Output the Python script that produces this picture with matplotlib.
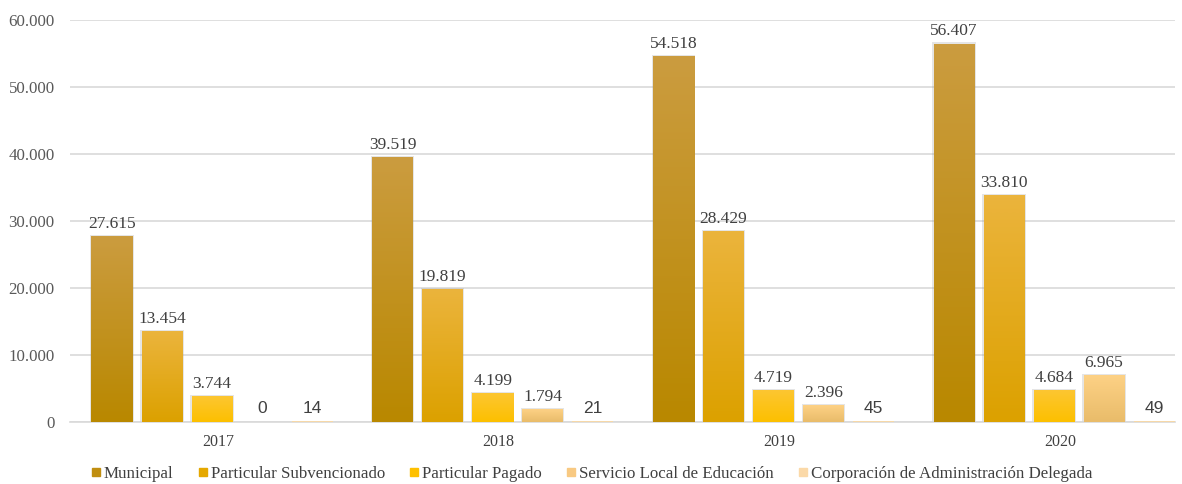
import numpy as np
import matplotlib.pyplot as plt
from matplotlib.colors import LinearSegmentedColormap
from matplotlib.lines import Line2D

years = ['2017', '2018', '2019', '2020']
series = ['Municipal', 'Particular Subvencionado', 'Particular Pagado',
          'Servicio Local de Educación', 'Corporación de Administración Delegada']
municipal = [27615, 39519, 54518, 56407]
subvencionado = [13454, 19819, 28429, 33810]
pagado = [3744, 4199, 4719, 4684]
servicio_local = [0, 1794, 2396, 6965]
delegada = [14, 21, 45, 49]
values = [municipal, subvencionado, pagado, servicio_local, delegada]

# (top colour, bottom colour) for each series gradient
grads = [('#cb9c3f', '#b98800'),
         ('#ebb43c', '#dca100'),
         ('#fdc631', '#fcc000'),
         ('#fdd185', '#e9bc6a'),
         ('#fde0b0', '#f0d0a0')]
legend_cols = ['#c08e10', '#e5a800', '#fec000', '#f8c982', '#fbd9a8']

plt.rcParams['font.family'] = 'Liberation Serif'

fig = plt.figure(figsize=(11.82, 4.84), dpi=100)
ax = fig.add_axes([70 / 1182, 62 / 484, 1105 / 1182, 402 / 484])

cat_px = 280.7
n = len(series)
bw = 41 / cat_px
step = 50 / cat_px
shift = -6 / cat_px
for i, vals in enumerate(values):
    cmap = LinearSegmentedColormap.from_list('g%d' % i, [grads[i][1], grads[i][0]])
    for j, v in enumerate(vals):
        xc = j + (i - (n - 1) / 2) * step + shift
        x0, x1 = xc - bw / 2, xc + bw / 2
        if v > 0:
            if v > 100:
                # soft shadow behind the bar
                ax.add_patch(plt.Rectangle((x0 - 0.004, 0), bw + 0.008, v + 250,
                                           color='#999999', alpha=0.25, lw=0, zorder=2))
            grad = np.linspace(0, 1, 64).reshape(-1, 1)
            ax.imshow(grad, cmap=cmap, origin='lower', aspect='auto',
                      extent=[x0, x1, 0, v], zorder=3, interpolation='bilinear')
        lab = f'{v:,}'.replace(',', '.')
        if v < 100:
            ax.text(xc, v + 900, lab, ha='center', va='bottom', fontsize=12.5,
                    color='#404040', family='Liberation Sans')
        else:
            ax.text(xc, v + 700, lab, ha='center', va='bottom', fontsize=12.5,
                    color='#404040')

ax.set_xlim((70 - 218) / cat_px, (1175 - 218) / cat_px)
ax.set_ylim(0, 60000)
ax.set_yticks(range(0, 60001, 10000))
ax.set_yticklabels([f'{t:,}'.replace(',', '.') for t in range(0, 60001, 10000)],
                   fontsize=12.2, color='#595959')
ax.set_xticks(range(len(years)))
ax.set_xticklabels(years, fontsize=11.5, color='#404040')
ax.tick_params(axis='y', length=0, pad=11)
ax.tick_params(axis='x', length=0, pad=9)
ax.yaxis.grid(True, color='#d9d9d9', lw=1.2)
ax.set_axisbelow(True)
for s in ['top', 'right', 'left']:
    ax.spines[s].set_visible(False)
ax.spines['bottom'].set_color('#d9d9d9')
ax.spines['bottom'].set_linewidth(1.2)

handles = [Line2D([], [], marker='s', ls='', markersize=6, color=c) for c in legend_cols]
fig.legend(handles, series, loc='lower center', bbox_to_anchor=(0.501, -0.028), ncol=5,
           frameon=False, fontsize=12.2, handlelength=0.5, handletextpad=0.2,
           columnspacing=1.5, labelcolor='#404040')

fig.savefig('out.png', dpi=100)
